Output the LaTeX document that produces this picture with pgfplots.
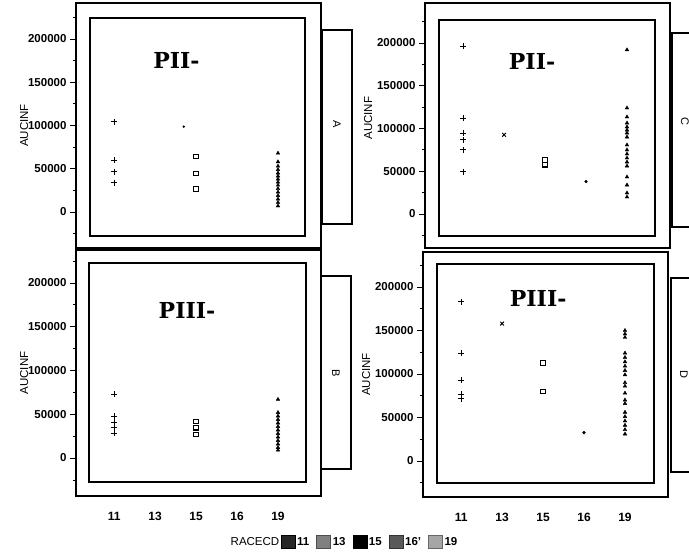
\documentclass[border=0pt]{standalone}
\usepackage{fontspec}
\setmainfont{Liberation Sans}
\newfontfamily\titlefont{DejaVu Serif}
\usepackage{pgfplots}
\pgfplotsset{compat=1.18}

\pgfplotsset{
  panel/.style={
    scale only axis, width=245pt, height=245pt,
    xmin=-0.93, xmax=5.05,
    clip=false,
    axis line style={line width=1.1pt},
    ytick={0,50000,100000,150000,200000},
    minor ytick={-25000,25000,...,225000},
    scaled y ticks=false,
    ytick pos=left, tick align=outside,
    major tick length=6pt, minor tick length=3.5pt,
    every tick/.append style={black, line width=0.8pt},
    yticklabel style={font=\fontsize{11.5}{14}\selectfont\bfseries,
      /pgf/number format/fixed, /pgf/number format/1000 sep={},
      /pgf/number format/assume math mode=true},
    xtick={0,1,2,3,4}, xticklabels={11,13,15,16,19},
    xtick style={draw=none},
    xticklabel style={font=\fontsize{12}{14}\selectfont\bfseries, yshift=-7pt},
    ylabel={AUCINF},
    ylabel style={font=\fontsize{11.5}{13}\selectfont, anchor=center},
  },
  toprow/.style={xmajorticks=false},
  p11/.style={forget plot, only marks, mark=+, mark size=3pt, line width=1pt, black},
  p13/.style={forget plot, only marks, mark=x, mark size=2.6pt, line width=1pt, black},
  p15/.style={forget plot, only marks, mark=square, mark size=2.2pt, line width=1.1pt, black},
  p16/.style={forget plot, only marks, mark=*, mark size=1.4pt, black},
  p19/.style={forget plot, only marks, mark=triangle*, mark size=2.1pt, black},
}
\tikzset{
  ttl/.style={font=\titlefont\bfseries\fontsize{22}{24}\selectfont},
  strip/.style={font=\fontsize{11}{13}\selectfont, rotate=-90},
}

\begin{document}
\begin{tikzpicture}
\useasboundingbox (0,0) rectangle (689pt,-555pt);

% ---- top left (A)
\begin{axis}[panel, toprow, at={(76pt,-3pt)}, anchor=north west,
  ymin=-41600, ymax=241600,
  ylabel style={at={(axis description cs:-0.212,0.5)}}]
  \addplot[p11] coordinates {(0,104400)(0,60100)(0,46600)(0,33900)};
  \addplot[p16, mark size=0.9pt] coordinates {(1.7,98700)};
  \addplot[p15] coordinates {(2,64000)(2,44700)(2,26600)};
  \addplot[p19] coordinates {(4,68000)(4,58000)(4,53000)(4,49000)(4,45000)
    (4,41500)(4,38000)(4,34500)(4,31000)(4,27000)(4,23000)(4,19000)
    (4,15000)(4,11000)(4,7000)};
  \node[ttl] at (axis description cs:0.41,0.767) {PII-};
  \draw[line width=1.1pt] ([xshift=14pt,yshift=-15pt]rel axis cs:0,1)
    rectangle ([xshift=-16pt,yshift=12pt]rel axis cs:1,0);
  \draw[line width=1.1pt] ([xshift=1pt,yshift=-27pt]rel axis cs:1,1)
    rectangle ([xshift=31pt,yshift=24pt]rel axis cs:1,0);
  \node[strip] at ([xshift=16pt,yshift=1.5pt]rel axis cs:1,0.5) {A};
\end{axis}

% ---- bottom left (B)
\begin{axis}[panel, at={(76pt,-250pt)}, anchor=north west,
  height=246pt, ymin=-43400, ymax=237700,
  ylabel style={at={(axis description cs:-0.212,0.5)}}]
  \addplot[p11] coordinates {(0,73000)(0,48000)(0,41000)(0,35000)(0,28500)};
  \addplot[p15] coordinates {(2,42000)(2,34500)(2,27000)};
  \addplot[p19] coordinates {(4,67000)(4,52000)(4,48000)(4,44000)(4,40000)
    (4,36000)(4,32000)(4,28000)(4,24000)(4,20000)(4,16000)(4,12000)(4,9000)};
  \node[ttl] at (axis description cs:0.453,0.756) {PIII-};
  \draw[line width=1.1pt] ([xshift=13pt,yshift=-13pt]rel axis cs:0,1)
    rectangle ([xshift=-15pt,yshift=14pt]rel axis cs:1,0);
  \draw[line width=1.1pt] ([xshift=0pt,yshift=-26pt]rel axis cs:1,1)
    rectangle ([xshift=30pt,yshift=27pt]rel axis cs:1,0);
  \node[strip] at ([xshift=15pt,yshift=-0.5pt]rel axis cs:1,0.5) {B};
\end{axis}

% ---- top right (C)
\begin{axis}[panel, toprow, at={(425pt,-3pt)}, anchor=north west,
  ymin=-39800, ymax=246800,
  ylabel style={at={(axis description cs:-0.232,0.53)}}]
  \addplot[p11] coordinates {(0,196000)(0,112000)(0,94500)(0,86700)(0,75000)(0,49600)};
  \addplot[p13] coordinates {(1,92600)};
  \addplot[p15] coordinates {(2,63000)(2,57500)};
  \addplot[p16] coordinates {(3,37900)};
  \addplot[p19] coordinates {(4,192000)(4,124000)(4,113500)(4,106400)(4,101800)
    (4,98200)(4,94700)(4,90000)(4,80700)(4,74900)(4,70200)(4,65500)(4,60800)
    (4,56100)(4,43300)(4,33900)(4,24600)(4,19900)};
  \node[ttl] at (axis description cs:0.437,0.76) {PII-};
  \draw[line width=1.1pt] ([xshift=14pt,yshift=-17pt]rel axis cs:0,1)
    rectangle ([xshift=-15pt,yshift=12pt]rel axis cs:1,0);
  \draw[line width=1.1pt] ([xshift=2pt,yshift=-30pt]rel axis cs:1,1)
    rectangle ([xshift=32pt,yshift=21pt]rel axis cs:1,0);
  \node[strip] at ([xshift=15pt,yshift=4.5pt]rel axis cs:1,0.5) {C};
\end{axis}

% ---- bottom right (D)
\begin{axis}[panel, at={(423pt,-252pt)}, anchor=north west,
  ymin=-41400, ymax=240200,
  ylabel style={at={(axis description cs:-0.232,0.5)}},
  legend style={at={(axis description cs:-0.216,-0.184)}, anchor=center,
    draw=none, fill=none, legend columns=-1,
    font=\fontsize{11.5}{13}\selectfont\bfseries,
    /tikz/every odd column/.append style={column sep=0pt},
    /tikz/every even column/.append style={column sep=5pt}},
  legend image code/.code={\filldraw[#1] (0pt,-6.5pt) rectangle (14pt,6.5pt);}]
  \addlegendimage{fill=black!85, draw=black}
  \addlegendentry{11}
  \addlegendimage{fill=black!50, draw=black!70}
  \addlegendentry{13}
  \addlegendimage{fill=black, draw=black}
  \addlegendentry{15}
  \addlegendimage{fill=black!65, draw=black!80}
  \addlegendentry{16'}
  \addlegendimage{fill=black!35, draw=black!60}
  \addlegendentry{19}
  \addplot[p11] coordinates {(0,182800)(0,124000)(0,92700)(0,76600)(0,71600)};
  \addplot[p13] coordinates {(1,157900)};
  \addplot[p15] coordinates {(2,112600)(2,80000)};
  \addplot[p16] coordinates {(3,32600)};
  \addplot[p19] coordinates {(4,150000)(4,146000)(4,142000)(4,124000)(4,119000)
    (4,114000)(4,109000)(4,104000)(4,99000)(4,90000)(4,86000)(4,78000)
    (4,70000)(4,66000)(4,56000)(4,51000)(4,46000)(4,41000)(4,36000)(4,31000)};
  \node[ttl] at (axis description cs:0.47,0.81) {PIII-};
  \draw[line width=1.1pt] ([xshift=14pt,yshift=-12pt]rel axis cs:0,1)
    rectangle ([xshift=-14pt,yshift=14pt]rel axis cs:1,0);
  \draw[line width=1.1pt] ([xshift=3pt,yshift=-26pt]rel axis cs:1,1)
    rectangle ([xshift=33pt,yshift=25pt]rel axis cs:1,0);
  \node[strip] at ([xshift=16pt,yshift=0.5pt]rel axis cs:1,0.5) {D};
\end{axis}

\node[font=\fontsize{11.5}{13}\selectfont] at (255pt,-542pt) {RACECD};
\end{tikzpicture}
\end{document}
